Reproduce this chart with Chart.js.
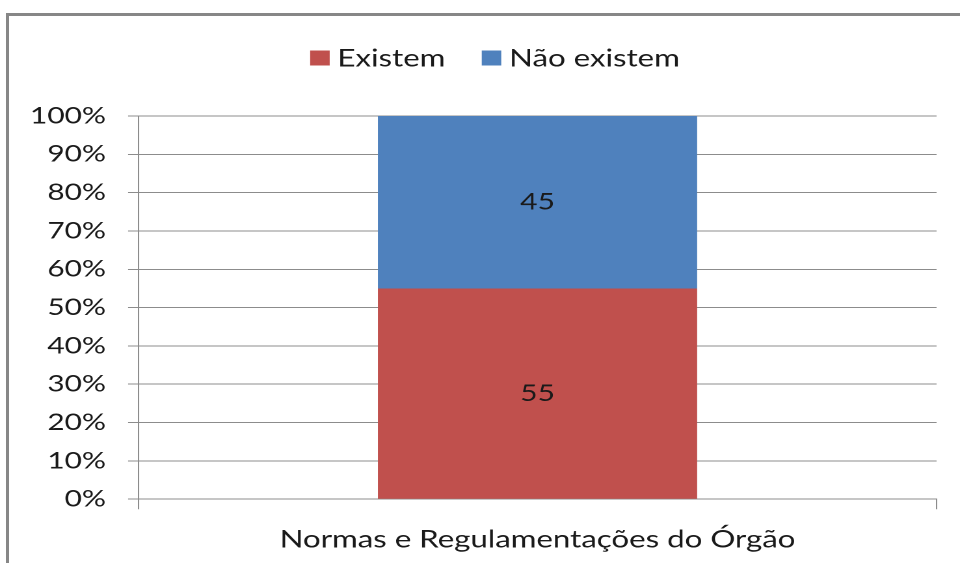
<!DOCTYPE html>
<html>
<head>
<meta charset="utf-8">
<script src="https://cdn.jsdelivr.net/npm/chart.js@4.4.1/dist/chart.umd.min.js"></script>
<style>
  html, body { margin: 0; padding: 0; background: #fff; overflow: hidden; }
  #frame { position: absolute; left: 6px; top: 13px; width: 1000px; height: 600px;
           border-left: 3px solid #878787; border-top: 3px solid #878787; }
  /* the original picture is stretched horizontally, so the chart is drawn narrower and scaled */
  #wrap { position: absolute; left: 0; top: 0; width: 738px; height: 580px;
          transform: scaleX(1.3008); transform-origin: 0 0; }
</style>
</head>
<body>
<div id="frame"></div>
<div id="wrap"><canvas id="chart"></canvas></div>
<script>
const categories = ['Normas e Regulamentações do Órgão'];
const existem = [55];
const naoExistem = [45];
const seriesNames = ['Existem', 'Não existem'];

const FONT = 'Lato';
const gridColor = '#8c8c8c';
const textColor = '#1a1a1a';

// draws the value in the middle of each bar segment
const barLabels = {
  id: 'barLabels',
  afterDatasetsDraw(chart) {
    const ctx = chart.ctx;
    ctx.save();
    ctx.font = '23px ' + FONT;
    ctx.fillStyle = textColor;
    ctx.textAlign = 'center';
    ctx.textBaseline = 'middle';
    chart.data.datasets.forEach((ds, i) => {
      chart.getDatasetMeta(i).data.forEach((bar, j) => {
        const c = bar.getCenterPoint();
        ctx.fillText(ds.data[j], c.x, c.y);
      });
    });
    ctx.restore();
  }
};

// legend drawn by hand: small square, tight gap, centred over the plot
const topLegend = {
  id: 'topLegend',
  afterDraw(chart) {
    const ctx = chart.ctx;
    const box = 15, gap = 6, spacing = 28, y = 58;
    ctx.save();
    ctx.font = '24px ' + FONT;
    ctx.textBaseline = 'middle';
    const items = chart.data.datasets.map(ds => ({
      text: ds.label, color: ds.backgroundColor, w: ctx.measureText(ds.label).width
    }));
    const total = items.reduce((s, it) => s + box + gap + it.w, 0) + spacing * (items.length - 1);
    let x = 380.5 - total / 2;
    items.forEach(it => {
      ctx.fillStyle = it.color;
      ctx.fillRect(x, y - box / 2, box, box);
      ctx.fillStyle = textColor;
      ctx.fillText(it.text, x + box + gap, y + 1);
      x += box + gap + it.w + spacing;
    });
    ctx.restore();
  }
};

new Chart(document.getElementById('chart'), {
  type: 'bar',
  data: {
    labels: categories,
    datasets: [
      { label: seriesNames[0], data: existem, backgroundColor: '#C0504D' },
      { label: seriesNames[1], data: naoExistem, backgroundColor: '#4F81BD' }
    ]
  },
  options: {
    responsive: true,
    maintainAspectRatio: false,
    animation: false,
    devicePixelRatio: 2,
    layout: { padding: { left: 6, right: 18, top: 116, bottom: 10 } },
    barPercentage: 0.4,
    categoryPercentage: 1,
    plugins: {
      legend: { display: false },
      tooltip: { enabled: false }
    },
    scales: {
      x: {
        stacked: true,
        grid: { drawOnChartArea: false, color: gridColor, tickLength: 10 },
        border: { color: gridColor },
        ticks: { font: { family: FONT, size: 24 }, color: textColor, padding: 16 }
      },
      y: {
        stacked: true,
        min: 0,
        max: 100,
        grid: { color: gridColor, tickLength: 8 },
        border: { color: gridColor },
        ticks: {
          stepSize: 10,
          font: { family: FONT, size: 23 },
          color: textColor,
          padding: 17,
          callback: v => v + '%'
        }
      }
    }
  },
  plugins: [barLabels, topLegend]
});
</script>
</body>
</html>
